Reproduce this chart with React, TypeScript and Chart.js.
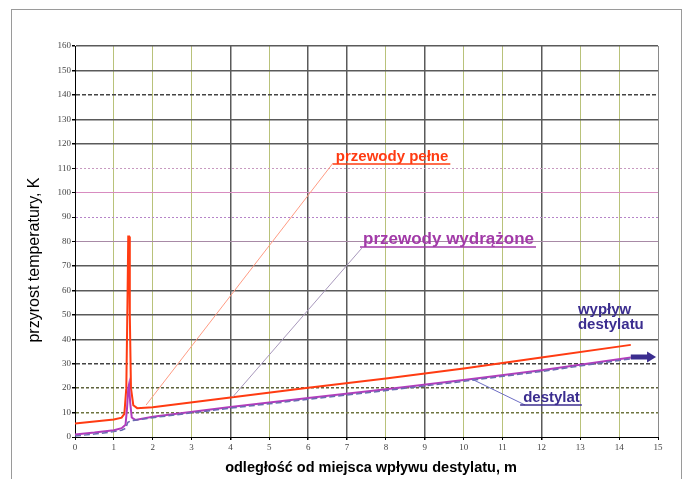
import React, { useEffect, useRef } from "react";
import { Chart, registerables } from "chart.js";

Chart.register(...registerables);

// ---- data (x in m, y in K) ----
const pelneX = [0, 0.5, 1.0, 1.2, 1.27, 1.32, 1.35, 1.37, 1.39, 1.41, 1.44, 1.5, 1.6, 2, 4, 6, 8, 10, 12, 14.3];
const pelneY = [5.5, 6.3, 7.2, 7.9, 9.5, 20, 55, 82, 82, 50, 20, 13, 11.8, 12.2, 16.2, 20.2, 23.9, 28, 32.5, 37.7];

const wydrX = [0, 0.5, 1.0, 1.2, 1.3, 1.34, 1.37, 1.39, 1.42, 1.46, 1.55, 2, 4, 6, 8, 10, 12, 14.3];
const wydrY = [1.0, 1.8, 2.8, 3.6, 5, 12, 20, 21.5, 14, 8, 7, 8.3, 12.3, 16, 19.5, 23.3, 27.3, 32.5];

const destX = [0, 0.5, 1.0, 1.2, 1.3, 1.36, 1.42, 1.5, 2, 4, 6, 8, 10, 12, 14.3];
const destY = [0.4, 1.2, 2.2, 2.8, 3.5, 6, 6.5, 6.8, 7.9, 11.8, 15.4, 19, 22.8, 26.8, 32];

// leader lines for annotations (data units)
const leaderPelneX = [1.83, 6.64];
const leaderPelneY = [13.1, 112.1];
const leaderWydrX = [4.06, 7.38];
const leaderWydrY = [16.4, 77.3];
const leaderDestX = [10.21, 11.58];
const leaderDestY = [23.7, 13.1];

// annotation labels
const labelTexts = ["przewody pełne", "przewody wydrążone", "wypływ", "destylatu", "destylat"];
const labelX = [6.71, 7.41, 12.94, 12.94, 11.53];
const labelY = [112.9, 79.0, 50.3, 44.2, 14.3];

// outflow arrow
const arrowX = [14.3, 14.95];
const arrowY = 32.7;

const xTitle = "odległość od miejsca wpływu destylatu, m";
const yTitle = "przyrost temperatury, K";

const xMin = 0, xMax = 15, xStep = 1;
const yMin = 0, yMax = 160, yStep = 10;

// ---- styles ----
const RED = "#ff3b12";
const PURPLE = "#b23cbc";
const NAVY = "#3b2d8f";
const labelColors = [RED, "#a23aa8", NAVY, NAVY, NAVY];
const labelSizes = [15, 17, 15, 15, 15];
const labelUnderline = [true, true, false, false, true];

const darkGrid = "#5a5a5a";
const oliveGrid = "#b9c27a";
const yGridStyle: Record<number, { c: string; d: number[]; w: number }> = {
  0: { c: "#000", d: [], w: 1 },
  10: { c: "#6e7440", d: [3, 2], w: 1.5 },
  20: { c: "#5e623c", d: [3, 2], w: 1.5 },
  30: { c: "#444", d: [4, 2], w: 1.5 },
  80: { c: "#a88aa6", d: [], w: 1 },
  90: { c: "#b684c8", d: [2, 2], w: 1 },
  100: { c: "#d88cc0", d: [], w: 1 },
  110: { c: "#c89ac0", d: [2, 2], w: 1 },
  140: { c: "#444", d: [4, 2], w: 1.5 },
};
const xDarkSet = [4, 6, 7, 9, 12];

const pts = (xs: number[], ys: number[]) => xs.map((x, i) => ({ x, y: ys[i] }));

const decorPlugin = {
  id: "decor",
  beforeDraw(chart: any) {
    const ctx = chart.ctx;
    ctx.save();
    ctx.fillStyle = "#fff";
    ctx.fillRect(0, 0, chart.width, chart.height);
    ctx.strokeStyle = "#9a9a9a";
    ctx.lineWidth = 1;
    ctx.strokeRect(11.5, 9.5, 670, 500);
    ctx.restore();
  },
  afterDatasetsDraw(chart: any) {
    const ctx = chart.ctx;
    const xs = chart.scales.x;
    const ys = chart.scales.y;
    ctx.save();
    // labels
    for (let i = 0; i < labelTexts.length; i++) {
      const px = xs.getPixelForValue(labelX[i]);
      const py = ys.getPixelForValue(labelY[i]);
      ctx.font = `bold ${labelSizes[i]}px "Liberation Sans", Arial, sans-serif`;
      ctx.fillStyle = labelColors[i];
      ctx.textAlign = "left";
      ctx.textBaseline = "alphabetic";
      ctx.fillText(labelTexts[i], px, py);
      if (labelUnderline[i]) {
        const w = ctx.measureText(labelTexts[i]).width;
        ctx.strokeStyle = labelColors[i];
        ctx.lineWidth = 1.5;
        ctx.beginPath();
        ctx.moveTo(px - 3, py + 3);
        ctx.lineTo(px + w + 2, py + 3);
        ctx.stroke();
      }
    }
    // arrow
    const ax0 = xs.getPixelForValue(arrowX[0]);
    const ax1 = xs.getPixelForValue(arrowX[1]);
    const ay = ys.getPixelForValue(arrowY);
    ctx.fillStyle = NAVY;
    ctx.beginPath();
    ctx.moveTo(ax0, ay - 2.5);
    ctx.lineTo(ax1 - 9, ay - 2.5);
    ctx.lineTo(ax1 - 9, ay - 5.5);
    ctx.lineTo(ax1, ay);
    ctx.lineTo(ax1 - 9, ay + 5.5);
    ctx.lineTo(ax1 - 9, ay + 2.5);
    ctx.lineTo(ax0, ay + 2.5);
    ctx.closePath();
    ctx.fill();
    // axis titles
    ctx.fillStyle = "#000";
    ctx.font = `bold 14.5px "Liberation Sans", Arial, sans-serif`;
    ctx.textAlign = "center";
    ctx.textBaseline = "middle";
    ctx.fillText(xTitle, 371, 468);
    ctx.translate(35, 260);
    ctx.rotate(-Math.PI / 2);
    ctx.font = `16px "Liberation Sans", Arial, sans-serif`;
    ctx.fillText(yTitle, 0, 0);
    ctx.restore();
  },
};

export default function App() {
  const ref = useRef<HTMLCanvasElement>(null);
  useEffect(() => {
    const chart = new Chart(ref.current as HTMLCanvasElement, {
      type: "line",
      data: {
        datasets: [
          { data: pts(leaderPelneX, leaderPelneY), borderColor: "#ff9c84", borderWidth: 1, pointRadius: 0 },
          { data: pts(leaderWydrX, leaderWydrY), borderColor: "#a898bc", borderWidth: 1, pointRadius: 0 },
          { data: pts(leaderDestX, leaderDestY), borderColor: "#6d6dc4", borderWidth: 1, pointRadius: 0 },
          { data: pts(destX, destY), borderColor: "#6a6ab0", borderWidth: 1.5, borderDash: [6, 3], pointRadius: 0 },
          { data: pts(wydrX, wydrY), borderColor: PURPLE, borderWidth: 2, pointRadius: 0 },
          { data: pts(pelneX, pelneY), borderColor: RED, borderWidth: 2, pointRadius: 0 },
        ],
      },
      options: {
        responsive: false,
        animation: false,
        devicePixelRatio: 1,
        layout: { padding: { left: 0, top: 46, right: 30, bottom: 0 } },
        plugins: { legend: { display: false }, tooltip: { enabled: false } },
        elements: { line: { tension: 0 } },
        scales: {
          x: {
            type: "linear",
            min: xMin,
            max: xMax,
            afterFit: (s: any) => { s.height = 42; },
            ticks: {
              stepSize: xStep,
              autoSkip: false,
              maxRotation: 0,
              padding: 2,
              color: "#444",
              font: { family: '"Liberation Serif", "Times New Roman", serif', size: 9 },
            },
            grid: {
              color: (c: any) => {
                const v = c.tick ? c.tick.value : 0;
                if (v === 0) return "#000";
                if (v === 15) return "#8a8a8a";
                return xDarkSet.includes(v) ? darkGrid : oliveGrid;
              },
              lineWidth: (c: any) => {
                const v = c.tick ? c.tick.value : 0;
                return xDarkSet.includes(v) ? 1.5 : 1;
              },
              tickColor: "#000",
              tickLength: 3,
            },
            border: { color: "#000", width: 1 },
          },
          y: {
            type: "linear",
            min: yMin,
            max: yMax,
            afterFit: (s: any) => { s.width = 75; },
            ticks: {
              stepSize: yStep,
              padding: 1,
              color: "#444",
              font: { family: '"Liberation Serif", "Times New Roman", serif', size: 9 },
            },
            grid: {
              color: (c: any) => {
                const v = c.tick ? c.tick.value : 0;
                return yGridStyle[v] ? yGridStyle[v].c : darkGrid;
              },
              lineWidth: (c: any) => {
                const v = c.tick ? c.tick.value : 0;
                return yGridStyle[v] ? yGridStyle[v].w : 1.5;
              },
              tickColor: "#000",
              tickLength: 3,
            },
            border: {
              color: "#000",
              width: 1,
              dash: (c: any) => {
                const v = c.tick ? c.tick.value : 0;
                return c.tick && yGridStyle[v] ? yGridStyle[v].d : [];
              },
            },
          },
        },
      },
      plugins: [decorPlugin],
    } as any);
    return () => chart.destroy();
  }, []);
  return (
    <div style={{ position: "absolute", left: 0, top: 0, width: 688, height: 479, background: "#fff" }}>
      <canvas ref={ref} width={688} height={479} style={{ display: "block" }} />
    </div>
  );
}
